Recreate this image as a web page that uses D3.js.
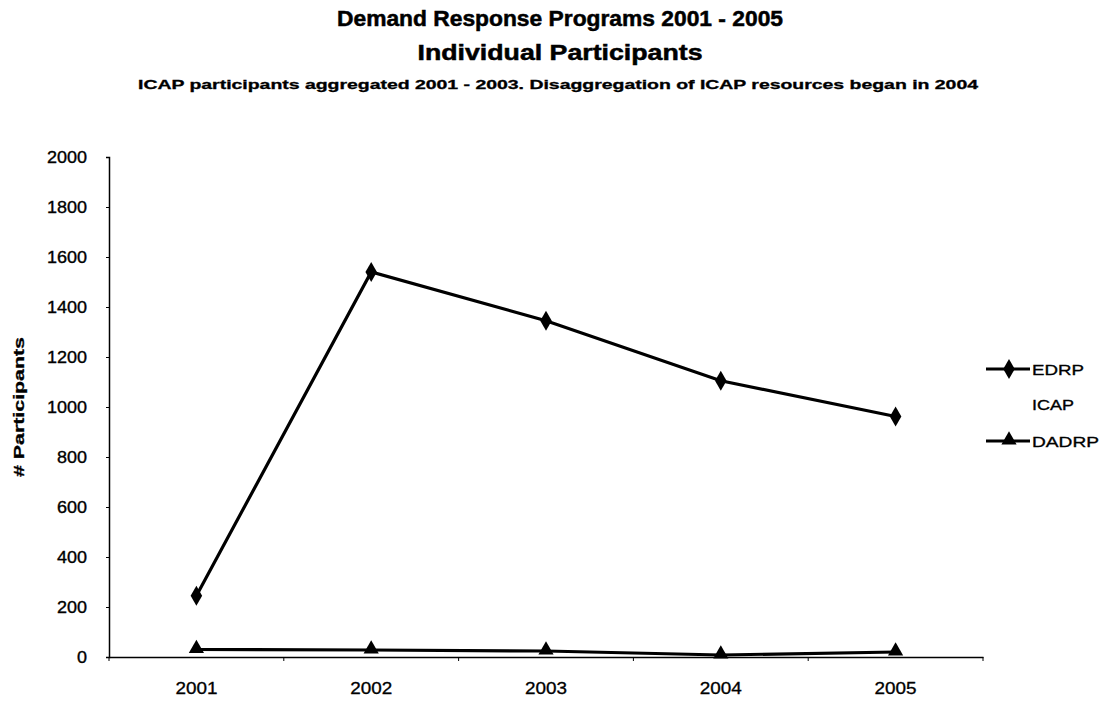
<!DOCTYPE html>
<html>
<head>
<meta charset="utf-8">
<script src="https://cdn.jsdelivr.net/npm/d3@7"></script>
<style>
  body { margin: 0; background: #fff; }
  svg { display: block; font-family: "Liberation Sans", Arial, sans-serif; }
</style>
</head>
<body>
<svg id="chart" width="1118" height="712"></svg>
<script>
// Participants per program year
const years = ["2001", "2002", "2003", "2004", "2005"];
const edrp = [245, 1540, 1345, 1105, 962];
const dadrp = [30, 28, 24, 8, 20];
const yTicks = [0, 200, 400, 600, 800, 1000, 1200, 1400, 1600, 1800, 2000];
const legendItems = ["EDRP", "ICAP", "DADRP"];

const svg = d3.select("#chart");
const plot = { left: 109, right: 983, top: 157, bottom: 657 };

const x = d3.scaleBand().domain(years).range([plot.left, plot.right]);
const y = d3.scaleLinear().domain([0, 2000]).range([plot.bottom, plot.top]);
const cx = d => x(d) + x.bandwidth() / 2;

// wide, heavy lettering
function wide(sel, len) {
  sel.attr("textLength", len).attr("lengthAdjust", "spacingAndGlyphs");
  return sel;
}

// Titles
wide(svg.append("text").attr("x", 560).attr("y", 26).attr("text-anchor", "middle")
  .attr("font-size", 21.5).attr("font-weight", "bold").attr("stroke", "#000").attr("stroke-width", 0.5)
  .text("Demand Response Programs 2001 - 2005"), 446);
wide(svg.append("text").attr("x", 560).attr("y", 60).attr("text-anchor", "middle")
  .attr("font-size", 21.5).attr("font-weight", "bold").attr("stroke", "#000").attr("stroke-width", 0.5)
  .text("Individual Participants"), 285);
wide(svg.append("text").attr("x", 558).attr("y", 89).attr("text-anchor", "middle")
  .attr("font-size", 12).attr("font-weight", "bold").attr("stroke", "#000").attr("stroke-width", 0.3)
  .text("ICAP participants aggregated 2001 - 2003. Disaggregation of ICAP resources began in 2004"), 840);

// Y axis
const yAxis = svg.append("g").attr("transform", `translate(${plot.left},0)`)
  .call(d3.axisLeft(y).tickValues(yTicks).tickSize(3).tickPadding(19).tickFormat(d3.format("d")));
yAxis.select(".domain").attr("stroke", "#000").attr("stroke-width", 1.5);
yAxis.selectAll(".tick line").attr("stroke", "#000");
yAxis.selectAll("text").attr("font-size", 16).attr("fill", "#000")
  .attr("stroke", "#000").attr("stroke-width", 0.35)
  .attr("font-family", "'Liberation Sans', Arial, sans-serif")
  .attr("textLength", d => String(d).length * 10).attr("lengthAdjust", "spacingAndGlyphs");

wide(svg.append("text")
  .attr("transform", `translate(24,${(plot.top + plot.bottom) / 2}) rotate(-90)`)
  .attr("text-anchor", "middle").attr("font-size", 15).attr("font-weight", "bold")
  .attr("stroke", "#000").attr("stroke-width", 0.3)
  .text("# Participants"), 140);

// X axis
const xAxis = svg.append("g").attr("transform", `translate(0,${plot.bottom})`)
  .call(d3.axisBottom(x).tickSize(0).tickPadding(26));
xAxis.select(".domain").attr("stroke", "#000").attr("stroke-width", 1.5);
xAxis.selectAll("text").attr("font-size", 16).attr("fill", "#000")
  .attr("stroke", "#000").attr("stroke-width", 0.3)
  .attr("font-family", "'Liberation Sans', Arial, sans-serif")
  .attr("textLength", 42).attr("lengthAdjust", "spacingAndGlyphs");
// tick marks between categories
xAxis.selectAll("line.sep").data(d3.range(years.length + 1)).join("line")
  .attr("class", "sep")
  .attr("x1", i => plot.left + i * x.bandwidth()).attr("x2", i => plot.left + i * x.bandwidth())
  .attr("y1", 0).attr("y2", 4).attr("stroke", "#000");

const line = d3.line().x((d, i) => cx(years[i])).y(d => y(d));

// EDRP series
svg.append("path").datum(edrp).attr("d", line)
  .attr("fill", "none").attr("stroke", "#000").attr("stroke-width", 3.2);
const diamond = d3.symbol().type(d3.symbolDiamond).size(115);
svg.selectAll(".edrp-pt").data(edrp).join("path")
  .attr("class", "edrp-pt")
  .attr("transform", (d, i) => `translate(${cx(years[i])},${y(d)})`)
  .attr("d", diamond).attr("fill", "#000");

// DADRP series
svg.append("path").datum(dadrp).attr("d", line)
  .attr("fill", "none").attr("stroke", "#000").attr("stroke-width", 3.2);
const tri = d3.symbol().type(d3.symbolTriangle).size(100);
svg.selectAll(".dadrp-pt").data(dadrp).join("path")
  .attr("class", "dadrp-pt")
  .attr("transform", (d, i) => `translate(${cx(years[i])},${y(d) - 1})`)
  .attr("d", tri).attr("fill", "#000");

// Legend
const lg = svg.append("g").attr("transform", "translate(986,0)");
const rows = [369, 404, 441];
const legendWidths = { EDRP: 52, ICAP: 42, DADRP: 67 };
legendItems.forEach((name, i) => {
  const yy = rows[i];
  if (name !== "ICAP") {
    lg.append("line").attr("x1", 0).attr("x2", 44).attr("y1", yy).attr("y2", yy)
      .attr("stroke", "#000").attr("stroke-width", 3);
    lg.append("path").attr("transform", `translate(23,${yy - (name === "DADRP" ? 1 : 0)})`)
      .attr("d", name === "EDRP" ? diamond : tri).attr("fill", "#000");
  }
  wide(lg.append("text").attr("x", 46).attr("y", yy + 6).attr("font-size", 15.5)
    .attr("stroke", "#000").attr("stroke-width", 0.35).text(name), legendWidths[name]);
});
</script>
</body>
</html>
